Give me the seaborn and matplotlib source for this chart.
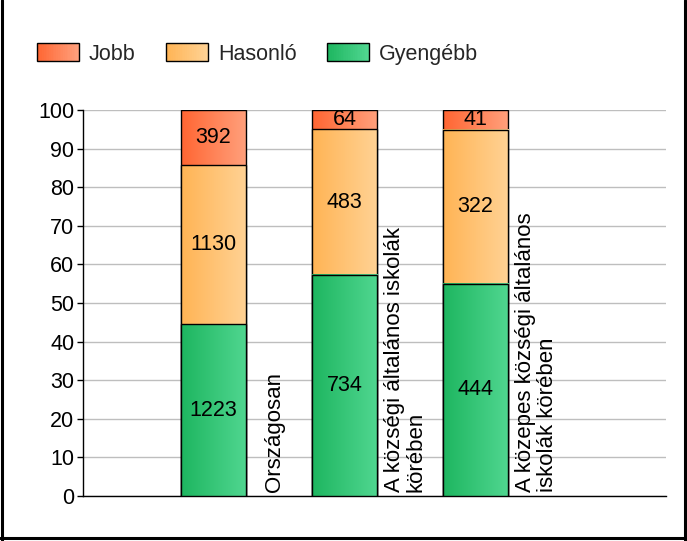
import numpy as np
import pandas as pd
import matplotlib
matplotlib.use("Agg")
import matplotlib.pyplot as plt
from matplotlib.colors import LinearSegmentedColormap
from matplotlib.patches import Rectangle
from matplotlib.legend_handler import HandlerBase
import seaborn as sns

# Adatok
kategoriak = ["Országosan",
              "A községi általános iskolák\nkörében",
              "A közepes községi általános\niskolák körében"]
sorozatok = ["Jobb", "Hasonló", "Gyengébb"]
gyengebb = [1223, 734, 444]
hasonlo = [1130, 483, 322]
jobb = [392, 64, 41]

# szín-átmenetek (bal -> jobb)
SZINEK = {
    "Jobb": ("#FF6633", "#FFA07C"),
    "Hasonló": ("#FFB455", "#FFD294"),
    "Gyengébb": ("#1EB660", "#50D690"),
}

sns.set_theme(style="white")
plt.rcParams["font.family"] = ["Liberation Sans", "DejaVu Sans"]
FS = 15.5

df = pd.DataFrame({"kat": kategoriak, "Gyengébb": gyengebb,
                   "Hasonló": hasonlo, "Jobb": jobb})
ossz = df[["Gyengébb", "Hasonló", "Jobb"]].sum(axis=1)
df["p_gy"] = df["Gyengébb"] / ossz * 100
df["p_h"] = df["Hasonló"] / ossz * 100
df["p_j"] = df["Jobb"] / ossz * 100
df["cum_gy"] = df["p_gy"]
df["cum_h"] = df["p_gy"] + df["p_h"]
df["cum_j"] = df["cum_h"] + df["p_j"]

fig = plt.figure(figsize=(6.87, 5.41), dpi=100)
ax = fig.add_axes([82.5 / 687, 1 - 496 / 541, (665.5 - 82.5) / 687, (496 - 110) / 541])

# egymásra rajzolt oszlopok (felülről lefelé)
for oszlop, nev in [("cum_j", "Jobb"), ("cum_h", "Hasonló"), ("cum_gy", "Gyengébb")]:
    sns.barplot(data=df, x="kat", y=oszlop, order=kategoriak, width=0.5,
                color=SZINEK[nev][0], edgecolor="black", linewidth=1,
                ax=ax, errorbar=None, zorder=3)

# átmenetes kitöltés minden oszlopra
gradiens = np.linspace(0, 1, 64).reshape(1, -1)
n = len(kategoriak)
for i, p in enumerate(ax.patches):
    nev = sorozatok[i // n]
    cmap = LinearSegmentedColormap.from_list(nev, SZINEK[nev])
    x0, y0 = p.get_x(), p.get_y()
    w, h = p.get_width(), p.get_height()
    ax.imshow(gradiens, extent=[x0, x0 + w, y0, y0 + h], cmap=cmap,
              aspect="auto", zorder=3 + i // n * 0.1 + 0.05, interpolation="bilinear")
    p.set_facecolor("none")
    p.set_zorder(3 + i // n * 0.1 + 0.06)

# értékcímkék
for i in range(n):
    also = 0
    for ertek, szazalek in [(gyengebb[i], df["p_gy"][i]), (hasonlo[i], df["p_h"][i]), (jobb[i], df["p_j"][i])]:
        ax.text(i, also + szazalek / 2, str(ertek), ha="center", va="center",
                fontsize=FS, color="black", zorder=10)
        also += szazalek

# kategória feliratok függőlegesen
for i, kat in enumerate(kategoriak):
    ax.text(i + 0.465, 1.0, kat, rotation=90, ha="center", va="bottom",
            multialignment="left", fontsize=16, color="black", linespacing=1.05,
            zorder=10)

ax.set_xlim(-1, 3.45)
ax.set_ylim(0, 100)
ax.set_yticks(range(0, 101, 10))
ax.set_xticks([])
ax.set_xlabel("")
ax.set_ylabel("")
ax.tick_params(axis="y", labelsize=FS, length=4, width=1, color="black",
               direction="out", pad=2, left=True, labelcolor="black")
ax.yaxis.grid(True, color="#BEBEBE", linewidth=1, zorder=0)
ax.set_axisbelow(True)
for s in ["top", "right"]:
    ax.spines[s].set_visible(False)
for s in ["left", "bottom"]:
    ax.spines[s].set_color("black")
    ax.spines[s].set_linewidth(1)


# jelmagyarázat átmenetes mintákkal
class GradiensHandler(HandlerBase):
    def __init__(self, szinek):
        super().__init__()
        self.szinek = szinek

    def create_artists(self, legend, orig_handle, xdescent, ydescent,
                       width, height, fontsize, trans):
        cmap = LinearSegmentedColormap.from_list("g", self.szinek)
        lepes = 24
        elemek = []
        for k in range(lepes):
            elemek.append(Rectangle((-xdescent + width * k / lepes, -ydescent),
                                    width / lepes + 0.3, height,
                                    facecolor=cmap(k / (lepes - 1)),
                                    edgecolor="none", transform=trans))
        elemek.append(Rectangle((-xdescent, -ydescent), width, height,
                                facecolor="none", edgecolor="black",
                                linewidth=1, transform=trans))
        return elemek


kezelok = [Rectangle((0, 0), 1, 1) for _ in sorozatok]
fig.legend(kezelok, sorozatok, loc="center left",
           bbox_to_anchor=(37 / 687, 1 - 54 / 541), ncol=3, frameon=False,
           fontsize=FS, handlelength=1.95, handleheight=0.9,
           handletextpad=0.47, columnspacing=1.4, borderpad=0, borderaxespad=0,
           handler_map={h: GradiensHandler(SZINEK[nev]) for h, nev in zip(kezelok, sorozatok)})

# külső keret
for xs, ys in [([1.5 / 687, 1.5 / 687], [0, 1]),
               ([685 / 687, 685 / 687], [0, 1]),
               ([0, 1], [1 - 538 / 541, 1 - 538 / 541])]:
    fig.add_artist(plt.Line2D(xs, ys, color="black", linewidth=2.2,
                              transform=fig.transFigure))

fig.savefig("out.png", dpi=100)
